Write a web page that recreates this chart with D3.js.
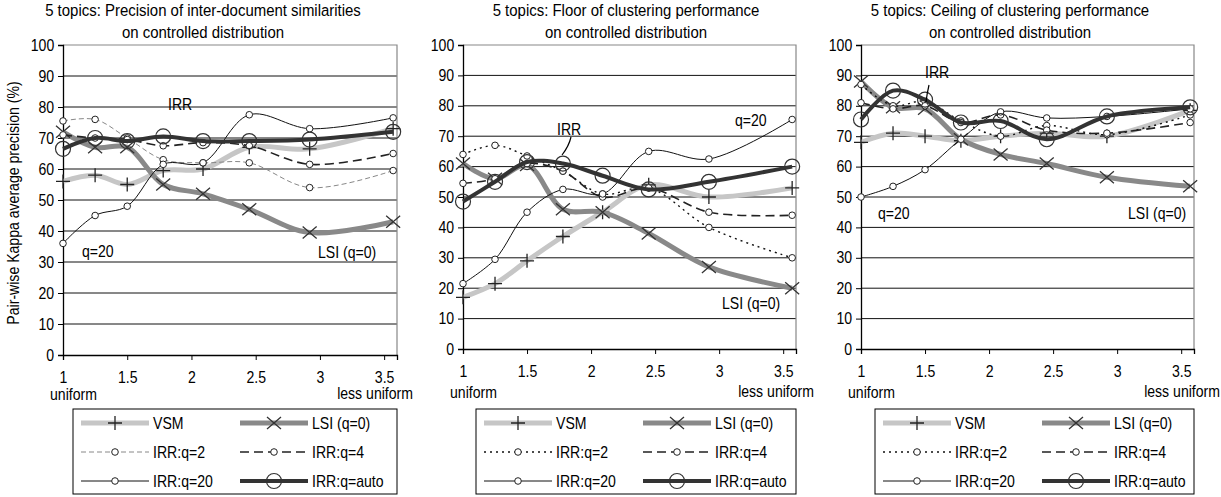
<!DOCTYPE html>
<html><head><meta charset="utf-8">
<script src="https://cdn.jsdelivr.net/npm/d3@7"></script>
<style>
body{margin:0;background:#fff}
text{font-family:"Liberation Sans",Arial,sans-serif;fill:#000}
</style>
</head><body>
<svg id="c" width="1221" height="497"></svg>
<script>
// ---------- data ----------
const xValues = [1, 1.25, 1.5, 1.78, 2.09, 2.45, 2.92, 3.57];
const xTicks = [1, 1.5, 2, 2.5, 3, 3.5];
const yTicks = [0, 10, 20, 30, 40, 50, 60, 70, 80, 90, 100];
const seriesNames = ["VSM", "LSI (q=0)", "IRR:q=2", "IRR:q=4", "IRR:q=20", "IRR:q=auto"];
const yAxisTitle = "Pair-wise Kappa average precision (%)";
const xLabelLeft = "uniform";
const xLabelRight = "less uniform";

const titles = [
  ["5 topics: Precision of inter-document similarities", "on controlled distribution"],
  ["5 topics: Floor of clustering performance", "on controlled distribution"],
  ["5 topics: Ceiling of clustering performance", "on controlled distribution"]
];

// panel 1: precision
const precVSM  = [56, 58, 55, 59.5, 60, 67, 66.5, 73];
const precLSI  = [72, 67, 67, 55, 52, 47, 39.5, 43];
const precQ2   = [75.5, 76, 70, 63, 62, 62, 54, 59.5];
const precQ4   = [71, 70, 69.5, 67.5, 68.5, 67.5, 61.5, 65];
const precQ20  = [36, 45, 48, 61.5, 62, 77.5, 73, 76.5];
const precAuto = [66.5, 70, 69, 70.5, 69, 69, 69.5, 72];

// panel 2: floor
const floorVSM  = [17, 21.5, 29, 37, 45, 54, 50, 53];
const floorLSI  = [61, 56, 60.5, 46, 45, 38, 27, 20];
const floorQ2   = [64, 67, 63.5, 58.5, 51, 53, 40, 30];
const floorQ4   = [54.5, 56, 61, 58.5, 50, 53, 45, 44];
const floorQ20  = [21.5, 29.5, 45, 52.5, 51, 65, 62.5, 75.5];
const floorAuto = [48.5, 55, 61.5, 61, 57, 52.5, 55, 60];

// panel 3: ceiling
const ceilVSM  = [68, 71, 70, 68.5, 70, 71, 70, 78.5];
const ceilLSI  = [88, 79.5, 79, 69, 64, 61, 56.5, 53.5];
const ceilQ2   = [87, 80, 81.5, 75, 70, 73.5, 70.5, 77];
const ceilQ4   = [81, 79, 80, 74.5, 77, 72, 71, 74.5];
const ceilQ20  = [50, 53.5, 59, 69, 78, 76, 76.5, 79];
const ceilAuto = [75.5, 85, 82, 74.5, 75, 69, 76.5, 79.5];

// annotation texts
const annIRR = "IRR", annQ20 = "q=20", annLSI = "LSI (q=0)";

// ---------- layout / styles ----------
const SX = 0.88;
const panels = [
  {data:[precVSM,precLSI,precQ2,precQ4,precQ20,precAuto], l:63, r:397, t:45, b:355, titleX:203, q2dotted:false,
   ann:[{t:annIRR,x:168,y:110},{t:annQ20,x:82,y:257},{t:annLSI,x:318,y:258}], leader:null, legX:73, tickLabY:383, unifY:400, lessEnd:413},
  {data:[floorVSM,floorLSI,floorQ2,floorQ4,floorQ20,floorAuto], l:463, r:796, t:45, b:349, titleX:626, q2dotted:true,
   ann:[{t:annIRR,x:557,y:135},{t:annQ20,x:735,y:126},{t:annLSI,x:722,y:309}], leader:[571,137,562,155], legX:476, tickLabY:377, unifY:398, lessEnd:814},
  {data:[ceilVSM,ceilLSI,ceilQ2,ceilQ4,ceilQ20,ceilAuto], l:861, r:1194, t:45, b:349, titleX:1010, q2dotted:true,
   ann:[{t:annIRR,x:925,y:78},{t:annQ20,x:878,y:219},{t:annLSI,x:1128,y:219}], leader:[929,85,926,102], legX:875, tickLabY:377, unifY:398, lessEnd:1220}
];

function styleFor(i, dotted){
  switch(i){
    case 0: return {stroke:"#c6c6c6", w:5, dash:null, marker:"plus"};
    case 1: return {stroke:"#898989", w:5, dash:null, marker:"cross"};
    case 2: return dotted ? {stroke:"#111", w:1.4, dash:"2,4", marker:"small"} : {stroke:"#888", w:1, dash:"5,3", marker:"small"};
    case 3: return {stroke:"#222", w:1.6, dash:"9,5", marker:"small"};
    case 4: return {stroke:"#111", w:1, dash:null, marker:"small"};
    case 5: return {stroke:"#333", w:4, dash:null, marker:"big"};
  }
}

function drawMarker(g, type, x, y){
  if(type==="plus"){
    g.append("path").attr("d",`M${x-7},${y}H${x+7}M${x},${y-7}V${y+7}`).attr("stroke","#222").attr("stroke-width",1.3).attr("fill","none");
  } else if(type==="cross"){
    g.append("path").attr("d",`M${x-7},${y-6}L${x+7},${y+6}M${x-7},${y+6}L${x+7},${y-6}`).attr("stroke","#333").attr("stroke-width",1.3).attr("fill","none");
  } else if(type==="small"){
    g.append("circle").attr("cx",x).attr("cy",y).attr("r",3.3).attr("fill","#fff").attr("stroke","#222").attr("stroke-width",1);
  } else if(type==="big"){
    g.append("circle").attr("cx",x).attr("cy",y).attr("r",7.5).attr("fill","none").attr("stroke","#333").attr("stroke-width",1.2);
  }
}

// narrow text helper
function T(g, x, y, s, size, anchor, rot){
  return g.append("text")
    .attr("transform", `translate(${x},${y})` + (rot ? ` rotate(${rot})` : "") + ` scale(${SX},1)`)
    .attr("text-anchor", anchor || "start").attr("font-size", size).text(s);
}

const svg = d3.select("#c");
svg.append("rect").attr("width",1221).attr("height",497).attr("fill","#fff");

// y axis title
T(svg, 19, 203, yAxisTitle, 16, "middle", -90);

panels.forEach((p, pi) => {
  const x = d3.scaleLinear().domain([1, 3.6]).range([p.l, p.r]);
  const y = d3.scaleLinear().domain([0, 100]).range([p.b, p.t]);
  const g = svg.append("g");

  // titles
  titles[pi].forEach((s, k) => T(g, p.titleX, 16 + k*22, s, 17, "middle"));

  // gridlines
  g.append("g").selectAll("line").data(yTicks.filter(v => v>0 && v<100)).join("line")
    .attr("x1",p.l).attr("x2",p.r).attr("y1",d=>y(d)).attr("y2",d=>y(d))
    .attr("stroke","#111").attr("stroke-width",1);
  // border top/right
  g.append("path").attr("d",`M${p.l},${y(100)}H${p.r}V${p.b}`).attr("stroke","#888").attr("stroke-width",1.2).attr("fill","none");

  // axes
  const ya = d3.axisLeft(y).tickValues(yTicks).tickSize(5).tickPadding(5);
  const yg = g.append("g").attr("transform",`translate(${p.l},0)`).call(ya);
  yg.select(".domain").attr("stroke","#000").attr("stroke-width",1.3);
  yg.selectAll(".tick line").attr("stroke","#000");
  yg.selectAll("text").attr("font-size",16).attr("font-family",'"Liberation Sans",Arial,sans-serif').attr("fill","#000")
    .attr("transform",`scale(${SX},1)`);

  const xa = d3.axisBottom(x).tickValues(xTicks).tickSize(5).tickPadding(6).tickFormat(d3.format("~g"));
  const xg = g.append("g").attr("transform",`translate(0,${p.b})`).call(xa);
  xg.select(".domain").attr("stroke","#000").attr("stroke-width",1.3);
  xg.selectAll(".tick line").attr("stroke","#000");
  xg.selectAll("text").attr("font-size",16).attr("font-family",'"Liberation Sans",Arial,sans-serif').attr("fill","#000")
    .attr("dy",null).attr("y", p.tickLabY - p.b).attr("transform",`scale(${SX},1)`);

  T(g, p.l - 13, p.unifY, xLabelLeft, 16, "start");
  T(g, p.lessEnd, p.unifY - 1, xLabelRight, 16, "end");

  // series
  const line = d3.line().x((d,i)=>x(xValues[i])).y(d=>y(d)).curve(d3.curveCatmullRom.alpha(0.5));
  const sg = g.append("g");
  p.data.forEach((vals, si) => {
    const st = styleFor(si, p.q2dotted);
    sg.append("path").attr("d", line(vals)).attr("fill","none").attr("stroke",st.stroke)
      .attr("stroke-width",st.w).attr("stroke-dasharray",st.dash).attr("stroke-linejoin","round");
    vals.forEach((v,i) => drawMarker(sg, st.marker, x(xValues[i]), y(v)));
  });

  // annotations
  p.ann.forEach(a => T(g, a.x, a.y, a.t, 16, "start"));
  if(p.leader){
    const [x1,y1,x2,y2] = p.leader;
    g.append("path").attr("d",`M${x1},${y1}Q${x1-2},${(y1+y2)/2} ${x2},${y2}`).attr("stroke","#000").attr("fill","none").attr("stroke-width",1.2);
  }

  // legend
  const lx = p.legX, ly = 409, lw = p.r - lx, lh = 85;
  const lg = g.append("g");
  lg.append("rect").attr("x",lx).attr("y",ly).attr("width",lw).attr("height",lh).attr("fill","#fff").attr("stroke","#000").attr("stroke-width",1);
  const rows = [[0,1],[2,3],[4,5]];
  rows.forEach((row, ri) => {
    row.forEach((si, ci) => {
      const st = styleFor(si, p.q2dotted);
      const x0 = lx + (ci===0 ? 8 : 167), x1 = x0 + 68;
      const yy = ly + 14 + ri*29;
      lg.append("line").attr("x1",x0).attr("x2",x1).attr("y1",yy).attr("y2",yy)
        .attr("stroke",st.stroke).attr("stroke-width",st.w).attr("stroke-dasharray",st.dash);
      drawMarker(lg, st.marker, (x0+x1)/2, yy);
      T(lg, x1+4, yy+6, seriesNames[si], 16, "start");
    });
  });
});
</script>
</body></html>
